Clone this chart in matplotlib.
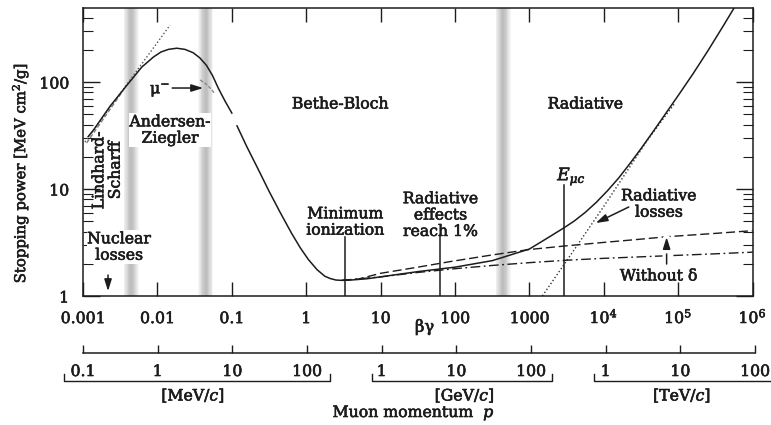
import matplotlib
matplotlib.use("Agg")
import matplotlib.pyplot as plt
from matplotlib import patheffects as pe
from matplotlib import transforms
from matplotlib.patches import ArrowStyle
from matplotlib.ticker import NullLocator, LogLocator, FixedLocator, NullFormatter

plt.rcParams['font.family'] = ['DejaVu Serif']
plt.rcParams['mathtext.fontset'] = 'dejavuserif'

# ---- stopping power of mu+ in copper, total (beta*gamma, MeV cm^2/g) ----
# low-energy branch (Lindhard / Andersen-Ziegler region)
total_low_bg = [0.001175, 0.00138, 0.00229, 0.00389, 0.00617, 0.00891, 0.0112,
                0.0141, 0.0182, 0.0234, 0.0302, 0.0372, 0.0457, 0.0550, 0.0661,
                0.0813, 0.100]
total_low_s = [30.9, 35.5, 58.9, 93.3, 138, 172, 191, 202, 207, 202, 188, 168,
               143, 115, 87.1, 66.1, 51.3]

# Bethe-Bloch branch and radiative rise
total_high_bg = [0.1175, 0.158, 0.224, 0.316, 0.447, 0.631, 0.832, 1.07, 1.40,
                 1.78, 2.11, 2.51, 3.02, 3.98, 6.6, 10, 31.6, 100, 316, 1000,
                 1778, 2912, 3981, 5623, 7943, 11220, 15850, 22390, 31620,
                 44670, 63100, 100000, 158500, 251200, 398100, 631000]
total_high_s = [38.9, 25.1, 15.5, 9.55, 6.03, 3.89, 2.82, 2.19, 1.76, 1.53,
                1.455, 1.41, 1.40, 1.41, 1.45, 1.51, 1.69, 1.86, 2.14, 2.75,
                3.51, 4.34, 5.01, 6.05, 7.53, 9.66, 12.7, 17.3, 23.9, 33.5,
                47.3, 75.0, 120, 197, 331, 562]

# ionization without density-effect correction
no_delta_bg = [3.02, 5.0, 10, 31.6, 87, 316, 1000, 2912, 10000, 31600, 69700,
               316000, 1000000]
no_delta_s = [1.40, 1.44, 1.63, 1.86, 2.10, 2.42, 2.72, 2.93, 3.17, 3.40, 3.58,
              3.85, 4.08]

# ionization with density effect
ion_bg = [3.02, 10, 31.6, 100, 316, 1000, 3162, 10000, 63000, 316000, 1000000]
ion_s = [1.40, 1.51, 1.66, 1.80, 1.93, 2.05, 2.16, 2.25, 2.37, 2.48, 2.57]

# radiative losses
rad_bg = [1400, 1490, 3970, 10000, 38600, 89000]
rad_s = [0.94, 1.0, 2.69, 6.9, 28.7, 63]

# low-energy extrapolations
lindhard_bg = [0.00106, 0.0148]
lindhard_s = [27.5, 341]
scharff_bg = [0.00112, 0.00345]
scharff_s = [27, 83]
mu_minus_bg = [0.0376, 0.045, 0.052, 0.058]
mu_minus_s = [104.5, 96, 87, 79]

# boundaries between descriptions
band_bg = [0.00443, 0.0446, 443]

# characteristic points
mip_bg = 3.36
rad_1pct_bg = 61.8
e_muc_bg = 2912

bg_ticks = [1e-3, 1e-2, 1e-1, 1, 10, 100, 1000, 1e4, 1e5, 1e6]
bg_tick_labels = ['0.001', '0.01', '0.1', '1', '10', '100', '1000',
                  r'$10^{4}$', r'$10^{5}$', r'$10^{6}$']
p_ticks_mev = [0.1, 1, 10, 100, 1e3, 1e4, 1e5, 1e6, 1e7, 1e8]
p_tick_labels = ['0.1', '1', '10', '100', '1', '10', '100', '1', '10', '100']
p_units = ['[MeV/$c$]', '[GeV/$c$]', '[TeV/$c$]']
p_unit_centers = [3.0, 1.3e4, 1.06e7]
p_brackets = [(0.0557, 203), (739, 1.9e5), (6.93e5, 3e8)]

INK = '#1c1c1c'
FS = 11.3
heavy = [pe.withStroke(linewidth=0.45, foreground=INK)]

fig = plt.figure(figsize=(7.71, 4.25), dpi=100)
ax = fig.add_axes([83 / 771, 1 - 296 / 425, 669.7 / 771, 288 / 425])
ax.set_xscale('log')
ax.set_yscale('log')
ax.set_xlim(1e-3, 1e6)
ax.set_ylim(1, 492)

# shaded boundaries with soft edges
for c in band_bg:
    for i in range(9):
        hw = 0.1 - i * 0.0105
        ax.axvspan(c * 10 ** -hw, c * 10 ** hw, color='#7a7a7a', alpha=0.065,
                   lw=0, zorder=0)

lw = 1.1
ax.plot(total_low_bg, total_low_s, color=INK, lw=lw, zorder=3)
ax.plot(total_high_bg, total_high_s, color=INK, lw=lw, zorder=3)
ax.plot(no_delta_bg, no_delta_s, color=INK, lw=1.0, ls=(0, (6.5, 2.8)), zorder=2)
ax.plot(ion_bg, ion_s, color=INK, lw=1.0, ls=(0, (7, 2.5, 1.3, 2.5)), zorder=2)
ax.plot(rad_bg, rad_s, color='#333333', lw=1.0, ls=(0, (1, 1.6)), zorder=2)
ax.plot(lindhard_bg, lindhard_s, color='#555555', lw=1.0, ls=(0, (1, 1.6)), zorder=2)
ax.plot(scharff_bg, scharff_s, color='#7a7a7a', lw=1.0, ls=(0, (3, 1.5)), zorder=2)
ax.plot(mu_minus_bg, mu_minus_s, color='#8a8a8a', lw=1.0, ls=(0, (2.5, 1.2)), zorder=2)

# markers of characteristic energies
ax.plot([mip_bg, mip_bg], [1, 3.56], color=INK, lw=1.1, zorder=3)
ax.plot([rad_1pct_bg, rad_1pct_bg], [1, 3.7], color=INK, lw=1.1, zorder=3)
ax.plot([e_muc_bg, e_muc_bg], [1, 10.9], color=INK, lw=1.1, zorder=3)

# axes, ticks
for s in ax.spines.values():
    s.set_linewidth(1.1)
    s.set_color(INK)
ax.xaxis.set_major_locator(FixedLocator(bg_ticks))
ax.xaxis.set_minor_locator(NullLocator())
ax.xaxis.set_major_formatter(NullFormatter())
ax.yaxis.set_major_locator(FixedLocator([1, 10, 100]))
ax.yaxis.set_minor_locator(LogLocator(base=10, subs=range(2, 10)))
ax.yaxis.set_minor_formatter(NullFormatter())
ax.set_yticklabels(['1', '10', '100'])
ax.tick_params(which='both', direction='in', top=True, right=True,
               color=INK, labelcolor=INK)
ax.tick_params(axis='x', which='major', length=10, width=1.0)
ax.tick_params(axis='y', which='major', length=12, width=1.0, pad=10,
               labelsize=FS)
ax.tick_params(axis='y', which='minor', length=7, width=0.8)
for lab in ax.get_yticklabels():
    lab.set_path_effects(heavy)

xlab_tr = transforms.blended_transform_factory(ax.transData, ax.transAxes)
for v, t in zip(bg_ticks, bg_tick_labels):
    ax.text(v, -0.094, t, transform=xlab_tr, ha='center', va='baseline',
            fontsize=FS, color=INK, clip_on=False, path_effects=heavy)
ax.text(0.51, -0.108, 'βγ', transform=ax.transAxes, ha='center', va='center',
        fontsize=FS + 0.5, color=INK, path_effects=heavy)
ax.text(-0.094, 0.427, 'Stopping power [MeV cm$^2$/g]', transform=ax.transAxes,
        rotation=90, ha='center', va='center', fontsize=FS - 0.6, color=INK,
        path_effects=heavy)

# labels inside the plot
tk = dict(ha='center', va='center', fontsize=FS, color=INK, linespacing=0.95,
          zorder=5, path_effects=heavy)
white = dict(facecolor='white', edgecolor='none', pad=0.3)
ax.text(2.88, 62.3, 'Bethe-Bloch', **tk)
ax.text(5650, 62.3, 'Radiative', **tk)
ax.text(0.0148, 35.6, 'Andersen-\nZiegler', bbox=white, **tk)
ax.text(0.0021, 15.0, 'Lindhard-\nScharff', rotation=90, **tk)
ax.text(0.00305, 2.87, 'Nuclear\nlosses', bbox=white, **tk)
ax.text(3.36, 4.92, 'Minimum\nionization', **tk)
ax.text(63.8, 5.71, 'Radiative\neffects\nreach 1%', **tk)
ax.text(54800, 7.24, 'Radiative\nlosses', **tk)
ax.text(54800, 1.538, 'Without δ', **tk)
ax.text(3700, 12.1, r'$E_{\mu c}$', ha='center', va='baseline', fontsize=FS + 1,
        color=INK, path_effects=heavy)
ax.text(0.0109, 84, 'μ$^{-}$', **tk)

head = ArrowStyle('-|>', head_length=0.7, head_width=0.22)
arrow = dict(arrowstyle=head, color=INK, lw=1.1, shrinkA=0, shrinkB=0)
ax.annotate('', xy=(0.0412, 87.9), xytext=(0.0158, 87.9), arrowprops=arrow)
ax.annotate('', xy=(0.00217, 1.11), xytext=(0.00217, 1.57), arrowprops=arrow)
ax.annotate('', xy=(7780, 4.81), xytext=(21600, 6.79), arrowprops=arrow)
arrow_gap = dict(arrow, path_effects=[pe.withStroke(linewidth=6, foreground='white')])
ax.annotate('', xy=(69700, 3.56), xytext=(69700, 1.99), arrowprops=arrow_gap)

# momentum scale
pax = fig.add_axes([83 / 771, 1 - 353 / 425, 672 / 771, 10 / 425])
pax.set_xscale('log')
pax.set_xlim(0.1, 1e8)
pax.set_ylim(0, 1)
pax.patch.set_visible(False)
for k in ('top', 'left', 'right'):
    pax.spines[k].set_visible(False)
pax.spines['bottom'].set_linewidth(1.1)
pax.spines['bottom'].set_color(INK)
pax.set_yticks([])
pax.xaxis.set_major_locator(FixedLocator(p_ticks_mev))
pax.xaxis.set_minor_locator(NullLocator())
pax.xaxis.set_major_formatter(NullFormatter())
pax.tick_params(axis='x', direction='in', length=6, width=1.0, color=INK)

ptr = transforms.blended_transform_factory(pax.transData, fig.transFigure)
for v, t in zip(p_ticks_mev, p_tick_labels):
    fig.text(v, 1 - 376 / 425, t, transform=ptr, ha='center', va='baseline',
             fontsize=FS, color=INK, path_effects=heavy)
yb, yh = 1 - 380.5 / 425, 1 - 374 / 425
for a, b in p_brackets:
    fig.add_artist(plt.Line2D([a, a, b, b], [yh, yb, yb, yh], transform=ptr,
                              color=INK, lw=1.0))
for v, t in zip(p_unit_centers, p_units):
    fig.text(v, 1 - 395 / 425, t, transform=ptr, ha='center', va='center',
             fontsize=FS, color=INK, path_effects=heavy)
fig.text(414 / 771, 1 - 413 / 425, 'Muon momentum  $p$', ha='center',
         va='center', fontsize=FS, color=INK, path_effects=heavy)

fig.savefig('out.png', dpi=100)
